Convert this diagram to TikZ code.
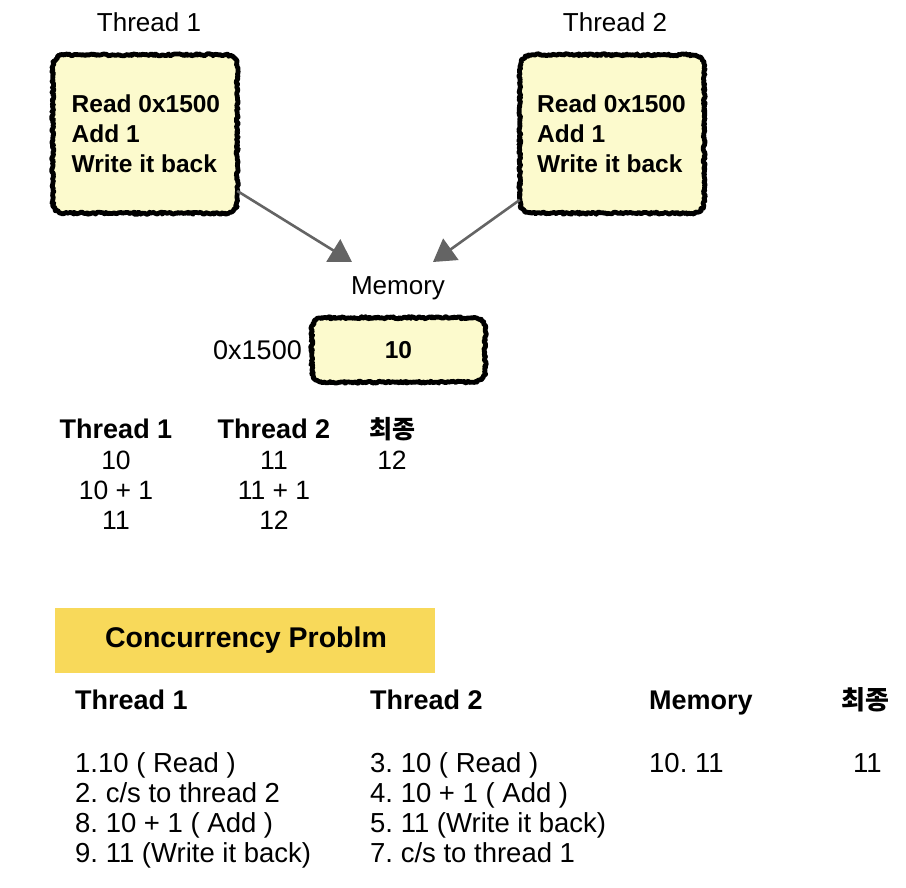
\documentclass[tikz,border=0pt]{standalone}
\usepackage{fontspec}
\setmainfont{Liberation Sans}
\newfontfamily\krfont{Noto Sans CJK KR}
\usetikzlibrary{decorations.pathmorphing,arrows.meta,calc}
\definecolor{boxfill}{RGB}{252,250,205}
\definecolor{banner}{RGB}{248,217,90}
\definecolor{arrowgray}{RGB}{100,100,100}
\newcommand\fszlab{\fontsize{26}{30}\selectfont}
\newcommand\fszbox{\fontsize{24.5}{28}\selectfont\bfseries}
\newcommand\fszhead{\fontsize{27}{30}\selectfont\bfseries}
\newcommand\fszlist{\fontsize{27.5}{30}\selectfont}
\newcommand\fszban{\fontsize{28.5}{32}\selectfont\bfseries}
\newcommand\roughborder[1]{\draw[roughline]
 ($(#1.north west)+(12,0)$) -- ($(#1.north east)+(-12,0)$)
 .. controls ($(#1.north east)+(-5,0)$) and ($(#1.north east)+(0,5)$) .. ($(#1.north east)+(0,12)$)
 -- ($(#1.south east)+(0,-12)$)
 .. controls ($(#1.south east)+(0,-5)$) and ($(#1.south east)+(-5,0)$) .. ($(#1.south east)+(-12,0)$)
 -- ($(#1.south west)+(12,0)$)
 .. controls ($(#1.south west)+(5,0)$) and ($(#1.south west)+(0,-5)$) .. ($(#1.south west)+(0,-12)$)
 -- ($(#1.north west)+(0,12)$)
 .. controls ($(#1.north west)+(0,5)$) and ($(#1.north west)+(5,0)$) .. ($(#1.north west)+(12,0)$)
 -- cycle;}
\frenchspacing
\begin{document}
\begin{tikzpicture}[x=1pt,y=-1pt,
  sketchbox/.style={fill=boxfill, rounded corners=12pt, inner sep=0pt},
  roughline/.style={draw=black, line width=4.8pt, line join=round, line cap=round,
    decorate, decoration={random steps, segment length=1.5pt, amplitude=1.1pt}},
  lab/.style={inner sep=0pt, font=\fszlab},
  boxtxt/.style={inner sep=0pt, anchor=base west, font=\fszbox},
  head/.style={inner sep=0pt, font=\fszhead},
  item/.style={inner sep=0pt, anchor=base west, font=\fszlist},
  cell/.style={inner sep=0pt, anchor=base, font=\fontsize{26.5}{30}\selectfont},
  conn/.style={draw=arrowgray, line width=2.6pt, -{Triangle[length=22pt,width=26pt]}}
]
\useasboundingbox (0,0) rectangle (906,888);

% thread boxes
\node[sketchbox, minimum width=184pt, minimum height=158pt] (b1) at (145,134) {};
\node[sketchbox, minimum width=184pt, minimum height=158pt] (b2) at (612,134) {};
\roughborder{b1}
\roughborder{b2}
\node[lab, anchor=base] (t1lab) at (149,32) {Thread 1};
\node[lab, anchor=base] (t2lab) at (615,32) {Thread 2};

\node[boxtxt] (b1l1) at (71.5,113) {Read 0x1500};
\node[boxtxt] (b1l2) at (71.5,143) {Add 1};
\node[boxtxt] (b1l3) at (71.5,173) {Write it back};
\node[boxtxt] (b2l1) at (537,113) {Read 0x1500};
\node[boxtxt] (b2l2) at (537,143) {Add 1};
\node[boxtxt] (b2l3) at (537,173) {Write it back};

% memory
\node[sketchbox, minimum width=173pt, minimum height=64pt, font=\fszbox] (mem) at (398.5,350) {10};
\roughborder{mem}
\node[lab, anchor=base] (memlab) at (398,294.5) {Memory};
\node[lab, anchor=base east, font=\fontsize{27}{30}\selectfont] (addr) at (302,359) {0x1500};

\coordinate (tip1) at (352,262);
\coordinate (tip2) at (433,262);
\draw[conn] (b1) -- (tip1);
\draw[conn] (b2) -- (tip2);

% middle table
\node[head, anchor=base] (h1) at (116,438.5) {Thread 1};
\node[head, anchor=base] (h2) at (274,438.5) {Thread 2};
\node[head, anchor=base, font=\fontsize{25}{30}\selectfont\bfseries\krfont] (h3) at (392,438.5) {최종};
\node[cell] (c11) at (116,469) {10};
\node[cell] (c12) at (116,499) {10 + 1};
\node[cell] (c13) at (116,529) {11};
\node[cell] (c21) at (274,469) {11};
\node[cell] (c22) at (274,499) {11 + 1};
\node[cell] (c23) at (274,529) {12};
\node[cell] (c31) at (392,469) {12};

% banner
\node[fill=banner, minimum width=380pt, minimum height=65pt, inner sep=0pt] (ban) at (245,640) {};
\node[inner sep=0pt, anchor=base, font=\fszban] (bantxt) at (246,647.5) {Concurrency Problm};

% bottom table
\node[head, anchor=base west] (bh1) at (75,709) {Thread 1};
\node[head, anchor=base west] (bh2) at (370,709) {Thread 2};
\node[head, anchor=base west] (bh3) at (649,709) {Memory};
\node[head, anchor=base west, font=\fontsize{26}{30}\selectfont\bfseries\krfont] (bh4) at (841,709) {최종};

\node[item] (i11) at (75,772) {1.10 ( Read )};
\node[item] (i12) at (75,802) {2. c/s to thread 2};
\node[item] (i13) at (75,832) {8. 10 + 1 ( Add )};
\node[item] (i14) at (75,862) {9. 11 (Write it back)};
\node[item] (i21) at (370,772) {3. 10 ( Read )};
\node[item] (i22) at (370,802) {4. 10 + 1 ( Add )};
\node[item] (i23) at (370,832) {5. 11 (Write it back)};
\node[item] (i24) at (370,862) {7. c/s to thread 1};
\node[item] (i31) at (649,772) {10. 11};
\node[item, anchor=base] (i41) at (867.5,772) {11};
\end{tikzpicture}
\end{document}
